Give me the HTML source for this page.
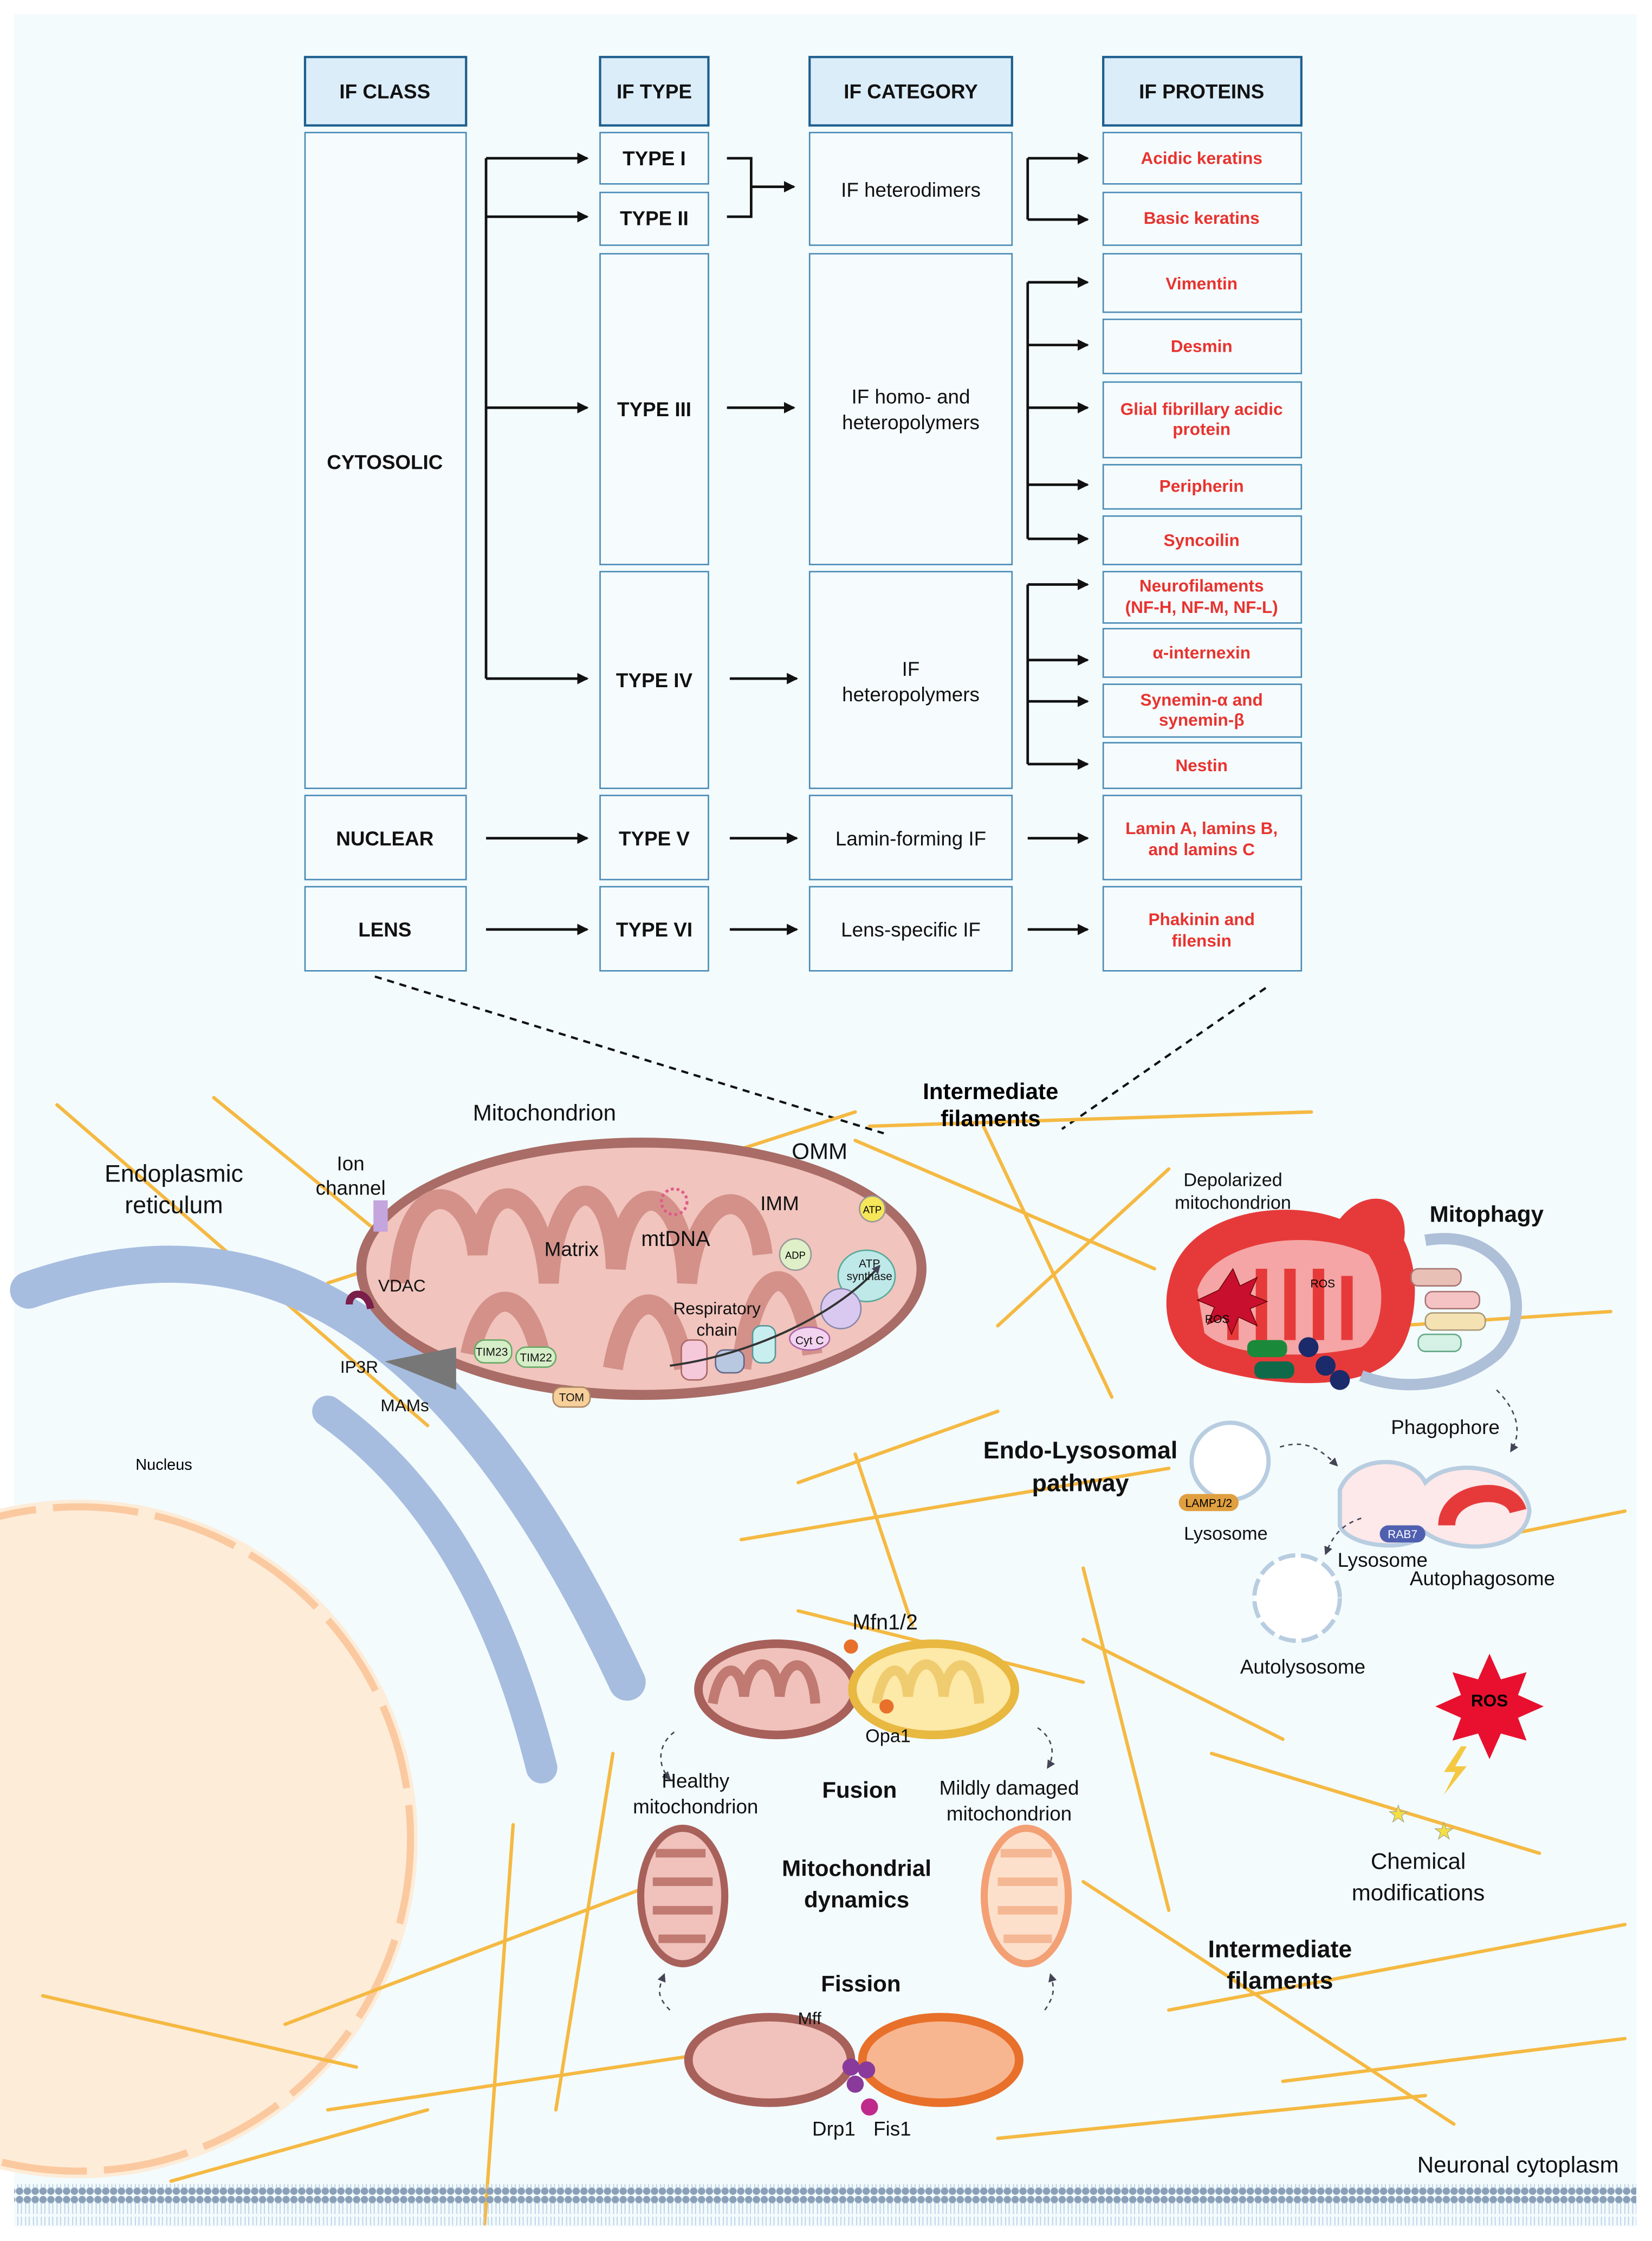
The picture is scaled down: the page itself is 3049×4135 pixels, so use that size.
<!DOCTYPE html>
<html><head><meta charset="utf-8"><style>
html,body{margin:0;padding:0;background:#fff}
svg{display:block}
text{font-family:"Liberation Sans",sans-serif}
.h{font-weight:bold;font-size:14px;fill:#111}
.r{font-weight:bold;font-size:12px;fill:#e8332f}
.c{font-size:14px;fill:#111}
.l{font-size:14px;fill:#111}
.b{font-weight:bold;font-size:16px;fill:#111}
</style></head><body>
<svg width="3049" height="4135" viewBox="0 0 1159 1572" preserveAspectRatio="none" xmlns="http://www.w3.org/2000/svg">
<defs>
<marker id="a" markerWidth="8" markerHeight="8" refX="7" refY="4" orient="auto" markerUnits="userSpaceOnUse"><path d="M0,0 L8,4 L0,8z" fill="#111"/></marker>
<marker id="d" markerWidth="6" markerHeight="6" refX="5" refY="3" orient="auto" markerUnits="userSpaceOnUse"><path d="M0,0 L6,3 L0,6z" fill="#445"/></marker>
<pattern id="mem" width="5.5" height="28" patternUnits="userSpaceOnUse"><circle cx="2.7" cy="3" r="2.6" fill="#8aa0b8"/><circle cx="2.7" cy="25" r="2.6" fill="#8aa0b8"/><path d="M1.5,5 V13 M4,5 V13 M1.5,15 V23 M4,15 V23" stroke="#bcd0e6" stroke-width="0.7"/></pattern>
</defs>
<rect x="0" y="0" width="1159" height="1572" fill="#fff"/>
<rect x="10" y="10" width="1138" height="1552" fill="#f3fbfd"/>
<!-- table headers -->
<g stroke="#1e5f8e" stroke-width="1.6" fill="#dcedfa">
<rect x="214" y="40" width="113" height="48"/><rect x="421" y="40" width="76" height="48"/><rect x="568" y="40" width="142" height="48"/><rect x="774" y="40" width="139" height="48"/>
</g>
<text class="h" x="270" y="69" text-anchor="middle">IF CLASS</text>
<text class="h" x="459" y="69" text-anchor="middle">IF TYPE</text>
<text class="h" x="639" y="69" text-anchor="middle">IF CATEGORY</text>
<text class="h" x="843" y="69" text-anchor="middle">IF PROTEINS</text>
<g stroke="#4a8bb5" stroke-width="1" fill="#f6fcfe">
<rect x="214" y="93" width="113" height="460"/><rect x="214" y="558" width="113" height="59"/><rect x="214" y="622" width="113" height="59"/>
<rect x="421" y="93" width="76" height="36"/><rect x="421" y="135" width="76" height="37"/><rect x="421" y="178" width="76" height="218"/><rect x="421" y="401" width="76" height="152"/><rect x="421" y="558" width="76" height="59"/><rect x="421" y="622" width="76" height="59"/>
<rect x="568" y="93" width="142" height="79"/><rect x="568" y="178" width="142" height="218"/><rect x="568" y="401" width="142" height="152"/><rect x="568" y="558" width="142" height="59"/><rect x="568" y="622" width="142" height="59"/>
<rect x="774" y="93" width="139" height="36"/><rect x="774" y="135" width="139" height="37"/><rect x="774" y="178" width="139" height="41"/><rect x="774" y="224" width="139" height="38"/><rect x="774" y="268" width="139" height="53"/><rect x="774" y="326" width="139" height="31"/><rect x="774" y="362" width="139" height="34"/><rect x="774" y="401" width="139" height="36"/><rect x="774" y="441" width="139" height="34"/><rect x="774" y="480" width="139" height="37"/><rect x="774" y="521" width="139" height="32"/><rect x="774" y="558" width="139" height="59"/><rect x="774" y="622" width="139" height="59"/>
</g>
<text class="h" x="270" y="329" text-anchor="middle">CYTOSOLIC</text>
<text class="h" x="270" y="593" text-anchor="middle">NUCLEAR</text>
<text class="h" x="270" y="657" text-anchor="middle">LENS</text>
<text class="h" x="459" y="116" text-anchor="middle">TYPE I</text>
<text class="h" x="459" y="158" text-anchor="middle">TYPE II</text>
<text class="h" x="459" y="292" text-anchor="middle">TYPE III</text>
<text class="h" x="459" y="482" text-anchor="middle">TYPE IV</text>
<text class="h" x="459" y="593" text-anchor="middle">TYPE V</text>
<text class="h" x="459" y="657" text-anchor="middle">TYPE VI</text>
<text class="c" x="639" y="138" text-anchor="middle">IF heterodimers</text>
<text class="c" x="639" y="283" text-anchor="middle">IF homo- and</text>
<text class="c" x="639" y="301" text-anchor="middle">heteropolymers</text>
<text class="c" x="639" y="474" text-anchor="middle">IF</text>
<text class="c" x="639" y="492" text-anchor="middle">heteropolymers</text>
<text class="c" x="639" y="593" text-anchor="middle">Lamin-forming IF</text>
<text class="c" x="639" y="657" text-anchor="middle">Lens-specific IF</text>
<g text-anchor="middle">
<text class="r" x="843" y="115">Acidic keratins</text>
<text class="r" x="843" y="157">Basic keratins</text>
<text class="r" x="843" y="203">Vimentin</text>
<text class="r" x="843" y="247">Desmin</text>
<text class="r" x="843" y="291">Glial fibrillary acidic</text>
<text class="r" x="843" y="305">protein</text>
<text class="r" x="843" y="345">Peripherin</text>
<text class="r" x="843" y="383">Syncoilin</text>
<text class="r" x="843" y="415">Neurofilaments</text>
<text class="r" x="843" y="430">(NF-H, NF-M, NF-L)</text>
<text class="r" x="843" y="462">α-internexin</text>
<text class="r" x="843" y="495">Synemin-α and</text>
<text class="r" x="843" y="509">synemin-β</text>
<text class="r" x="843" y="541">Nestin</text>
<text class="r" x="843" y="585">Lamin A, lamins B,</text>
<text class="r" x="843" y="600">and lamins C</text>
<text class="r" x="843" y="649">Phakinin and</text>
<text class="r" x="843" y="664">filensin</text>
</g>
<g stroke="#111" stroke-width="1.8" fill="none">
<path d="M341,111 V476"/>
<path d="M341,111 H412" marker-end="url(#a)"/><path d="M341,152 H412" marker-end="url(#a)"/><path d="M341,286 H412" marker-end="url(#a)"/><path d="M341,476 H412" marker-end="url(#a)"/>
<path d="M341,588 H412" marker-end="url(#a)"/><path d="M341,652 H412" marker-end="url(#a)"/>
<path d="M510,111 H527 V152 H510"/><path d="M527,131 H557" marker-end="url(#a)"/>
<path d="M510,286 H557" marker-end="url(#a)"/><path d="M512,476 H559" marker-end="url(#a)"/><path d="M512,588 H559" marker-end="url(#a)"/><path d="M512,652 H559" marker-end="url(#a)"/>
<path d="M721,111 V154"/><path d="M721,111 H763" marker-end="url(#a)"/><path d="M721,154 H763" marker-end="url(#a)"/>
<path d="M721,198 V378"/><path d="M721,198 H763" marker-end="url(#a)"/><path d="M721,242 H763" marker-end="url(#a)"/><path d="M721,286 H763" marker-end="url(#a)"/><path d="M721,340 H763" marker-end="url(#a)"/><path d="M721,378 H763" marker-end="url(#a)"/>
<path d="M721,410 V536"/><path d="M721,410 H763" marker-end="url(#a)"/><path d="M721,463 H763" marker-end="url(#a)"/><path d="M721,492 H763" marker-end="url(#a)"/><path d="M721,536 H763" marker-end="url(#a)"/>
<path d="M721,588 H763" marker-end="url(#a)"/><path d="M721,652 H763" marker-end="url(#a)"/>
</g>
<g stroke="#111" stroke-width="1.6" stroke-dasharray="5,4"><path d="M263,685 L620,795"/><path d="M888,693 L745,792"/></g>

<!-- nucleus -->
<circle cx="55" cy="1290" r="238" fill="#fdecd8"/>
<circle cx="55" cy="1290" r="233" fill="none" stroke="#fbc9a0" stroke-width="5" stroke-dasharray="60,12"/>
<text x="115" y="1031" font-family="Liberation Serif" font-size="11" text-anchor="middle">Nucleus</text>
<!-- filaments -->
<g stroke="#f5b942" stroke-width="2.4" fill="none" stroke-linecap="round">
<path d="M40,775 L300,1000"/><path d="M150,770 L260,860"/><path d="M230,900 L600,780"/><path d="M610,790 L920,780"/><path d="M600,800 L810,890"/><path d="M690,790 L780,980"/><path d="M700,930 L820,820"/><path d="M520,1080 L820,1030"/><path d="M560,1040 L700,990"/>
<path d="M200,1420 L490,1310"/><path d="M230,1480 L500,1440"/><path d="M360,1280 L340,1560"/><path d="M430,1230 L390,1480"/><path d="M30,1400 L250,1450"/><path d="M120,1530 L300,1480"/>
<path d="M760,1150 L900,1220"/><path d="M850,1230 L1080,1300"/><path d="M760,1320 L1020,1490"/><path d="M700,1500 L1000,1470"/><path d="M820,1410 L1140,1350"/><path d="M900,1460 L1140,1430"/><path d="M760,1100 L820,1340"/><path d="M560,1130 L760,1180"/><path d="M600,1020 L640,1140"/><path d="M980,930 L1130,920"/><path d="M1040,1080 L1140,1060"/>
</g>
<!-- ER -->
<g fill="none" stroke="#a7bddf" stroke-linecap="round">
<path d="M20,905 C150,860 300,880 440,1180" stroke-width="26"/>
<path d="M70,945 C190,920 290,1000 400,1220" stroke-width="0"/>
<path d="M230,990 C300,1040 350,1120 380,1240" stroke-width="22"/>
<path d="M150,860 C250,830 340,900 420,960" stroke-width="0"/>
</g>
<!-- mitochondrion -->
<ellipse cx="450" cy="890" rx="200" ry="92" fill="#a96c66"/>
<ellipse cx="450" cy="890" rx="193" ry="85" fill="#f1c4bd"/>
<path d="M280,900 C285,820 330,830 335,880 C340,820 380,830 385,900 C390,820 430,820 432,890 C440,820 480,830 482,900 C490,830 530,830 535,880" fill="none" stroke="#d3918a" stroke-width="14"/>
<path d="M330,950 C340,900 370,900 380,955 M430,960 C440,900 470,900 480,960 M520,960 C530,880 560,880 570,950" fill="none" stroke="#d3918a" stroke-width="14"/>
<circle cx="473" cy="843" r="9" fill="none" stroke="#e05a8a" stroke-width="2" stroke-dasharray="2,2"/>
<circle cx="612" cy="848" r="9" fill="#f5e65a" stroke="#999"/><text x="612" y="851" font-size="7" text-anchor="middle">ATP</text>
<circle cx="558" cy="880" r="11" fill="#dff0c8" stroke="#999"/><text x="558" y="883" font-size="7" text-anchor="middle">ADP</text>
<ellipse cx="608" cy="895" rx="20" ry="18" fill="#bfe8e8" stroke="#5a9"/>
<ellipse cx="590" cy="918" rx="14" ry="14" fill="#d9c9f0" stroke="#88a"/>
<rect x="478" y="940" width="18" height="28" rx="6" fill="#f5c9d9" stroke="#a66"/><rect x="502" y="947" width="20" height="16" rx="6" fill="#b8c8e0" stroke="#668"/><rect x="528" y="930" width="16" height="26" rx="6" fill="#c9eef0" stroke="#599"/>
<ellipse cx="568" cy="939" rx="14" ry="8" fill="#f3d4f0" stroke="#a6a"/>
<rect x="333" y="940" width="26" height="16" rx="7" fill="#d6eec8" stroke="#6a6"/><rect x="362" y="945" width="28" height="14" rx="7" fill="#d6eec8" stroke="#6a6"/>
<rect x="388" y="973" width="26" height="14" rx="6" fill="#f7cf9a" stroke="#a86"/>
<rect x="262" y="842" width="10" height="22" fill="#c4a5dd"/>
<path d="M270,955 L320,945 L320,975z" fill="#777"/>
<path d="M245,915 C245,905 258,905 260,918" stroke="#7a1e4a" stroke-width="5" fill="none"/>
<path d="M470,958 C530,950 590,920 617,888" stroke="#333" stroke-width="1.5" fill="none" marker-end="url(#d)"/>
<g class="l">
<text x="382" y="786" text-anchor="middle" font-size="16">Mitochondrion</text>
<text x="575" y="813" text-anchor="middle" font-size="16">OMM</text>
<text x="547" y="849" text-anchor="middle">IMM</text>
<text x="401" y="881" text-anchor="middle">Matrix</text>
<text x="474" y="874" text-anchor="middle" font-size="15">mtDNA</text>
<text x="503" y="922" text-anchor="middle" font-size="12">Respiratory</text>
<text x="503" y="937" text-anchor="middle" font-size="12">chain</text>
<text x="610" y="889" text-anchor="middle" font-size="8">ATP</text><text x="610" y="898" text-anchor="middle" font-size="8">synthase</text>
<text x="568" y="943" text-anchor="middle" font-size="8">Cyt C</text>
<text x="345" y="951" text-anchor="middle" font-size="8">TIM23</text><text x="376" y="955" text-anchor="middle" font-size="8">TIM22</text><text x="401" y="983" text-anchor="middle" font-size="8">TOM</text>
<text x="246" y="821" text-anchor="middle">Ion</text><text x="246" y="838" text-anchor="middle">channel</text>
<text x="282" y="906" text-anchor="middle" font-size="12">VDAC</text>
<text x="252" y="963" text-anchor="middle" font-size="12">IP3R</text>
<text x="284" y="990" text-anchor="middle" font-size="12">MAMs</text>
<text x="122" y="829" text-anchor="middle" font-size="17">Endoplasmic</text>
<text x="122" y="851" text-anchor="middle" font-size="17">reticulum</text>
</g>
<text x="695" y="771" font-family="Liberation Serif" font-weight="bold" font-size="16" text-anchor="middle">Intermediate</text>
<text x="695" y="790" font-family="Liberation Serif" font-weight="bold" font-size="16" text-anchor="middle">filaments</text>
<!-- mitophagy -->
<path d="M820,900 C830,850 900,840 940,855 C960,830 990,840 985,870 C1000,900 990,940 980,950 C960,975 900,975 850,960 C820,950 815,920 820,900z" fill="#e63a3a"/>
<path d="M840,905 C850,870 920,860 960,880 C975,900 970,935 955,945 C910,955 860,950 845,935z" fill="#f5a5a5"/>
<path d="M865,940 V900 M885,940 V890 M905,940 V890 M925,940 V890 M945,940 V895" stroke="#e63a3a" stroke-width="8"/>
<path d="M1000,870 C1060,860 1080,920 1050,950 C1020,975 980,975 955,965" fill="none" stroke="#aebfd8" stroke-width="8"/>
<rect x="990" y="890" width="35" height="12" rx="5" fill="#e9c0b6" stroke="#a77"/><rect x="1000" y="906" width="38" height="12" rx="5" fill="#f5c3c3" stroke="#a77"/><rect x="1000" y="921" width="42" height="12" rx="5" fill="#f5e2b3" stroke="#a97"/><rect x="995" y="936" width="30" height="12" rx="5" fill="#d5f0e5" stroke="#6a8"/>
<rect x="875" y="940" width="28" height="12" rx="5" fill="#1a8a3a"/><rect x="880" y="955" width="28" height="12" rx="5" fill="#0f6a4a"/>
<circle cx="918" cy="945" r="7" fill="#1a2a6a"/><circle cx="930" cy="958" r="7" fill="#1a2a6a"/><circle cx="940" cy="968" r="7" fill="#1a2a6a"/>
<path d="M855,905 l10,-15 l5,12 l12,-6 l-5,12 l12,5 l-12,5 l5,12 l-13,-6 l-5,12 l-5,-12 l-12,5 l5,-12 l-12,-5z" fill="#c8102e" stroke="#500" stroke-width="0.5"/>
<text x="854" y="928" font-size="8" text-anchor="middle">ROS</text>
<text x="928" y="903" font-size="8" text-anchor="middle">ROS</text>
<g class="l">
<text x="865" y="832" text-anchor="middle" font-size="13">Depolarized</text><text x="865" y="848" text-anchor="middle" font-size="13">mitochondrion</text>
<text x="1043" y="857" text-anchor="middle" font-weight="bold" font-size="16">Mitophagy</text>
<text x="1014" y="1006" text-anchor="middle">Phagophore</text>
<text x="758" y="1023" text-anchor="middle" font-weight="bold" font-size="17">Endo-Lysosomal</text>
<text x="758" y="1046" text-anchor="middle" font-weight="bold" font-size="17">pathway</text>
<text x="860" y="1080" text-anchor="middle" font-size="13">Lysosome</text>
<text x="970" y="1099" text-anchor="middle">Lysosome</text>
<text x="1040" y="1112" text-anchor="middle">Autophagosome</text>
<text x="914" y="1174" text-anchor="middle">Autolysosome</text>
</g>
<circle cx="863" cy="1025" r="27" fill="#fff" stroke="#b8cde0" stroke-width="3"/>
<rect x="827" y="1048" width="42" height="12" rx="6" fill="#e0a040"/><text x="848" y="1057" font-size="8" text-anchor="middle">LAMP1/2</text>
<path d="M940,1045 C950,1020 990,1020 1000,1040 C1020,1020 1070,1030 1073,1060 C1070,1090 1020,1090 1000,1075 C990,1090 945,1085 940,1070z" fill="#fde8ea" stroke="#b8cde0" stroke-width="3"/>
<path d="M1015,1070 C1015,1045 1060,1040 1065,1060" stroke="#e63a3a" stroke-width="12" fill="none"/>
<rect x="968" y="1070" width="32" height="12" rx="6" fill="#5060b0"/><text x="984" y="1079" font-size="8" fill="#fff" text-anchor="middle">RAB7</text>
<circle cx="910" cy="1121" r="30" fill="#fff" stroke="#b8cde0" stroke-width="3" stroke-dasharray="12,4"/>
<!-- ROS & chemical -->
<path d="M1045,1160 l8,18 l18,-5 l-6,16 l18,8 l-18,8 l6,16 l-18,-5 l-8,18 l-8,-18 l-18,5 l6,-16 l-18,-8 l18,-8 l-6,-16 l18,5z" fill="#e8102e"/>
<text x="1045" y="1197" font-size="12" font-weight="bold" text-anchor="middle">ROS</text>
<path d="M1025,1225 l-12,18 h8 l-8,16 l16,-20 h-8 l8,-14z" fill="#f5c842"/>
<text x="981" y="1278" font-size="16" fill="#f5e042" stroke="#aa8" stroke-width="0.5" text-anchor="middle">★</text>
<text x="1013" y="1290" font-size="16" fill="#f5e042" stroke="#aa8" stroke-width="0.5" text-anchor="middle">★</text>
<g class="l">
<text x="995" y="1311" text-anchor="middle" font-size="16">Chemical</text>
<text x="995" y="1333" text-anchor="middle" font-size="16">modifications</text>
<text x="898" y="1373" text-anchor="middle" font-weight="bold" font-size="17">Intermediate</text>
<text x="898" y="1395" text-anchor="middle" font-weight="bold" font-size="17">filaments</text>
<text x="1065" y="1524" text-anchor="middle" font-size="16">Neuronal  cytoplasm</text>
</g>
<!-- dynamics -->
<ellipse cx="545" cy="1185" rx="58" ry="35" fill="#a8605a"/><ellipse cx="545" cy="1185" rx="52" ry="29" fill="#f0c2bb"/>
<path d="M500,1195 C505,1165 520,1165 522,1190 C525,1160 545,1160 547,1190 C550,1160 570,1160 572,1195" fill="none" stroke="#c07a72" stroke-width="7"/>
<ellipse cx="655" cy="1185" rx="60" ry="35" fill="#e8b840"/><ellipse cx="655" cy="1185" rx="54" ry="29" fill="#fde9a8"/>
<path d="M615,1195 C620,1165 635,1165 637,1190 C640,1160 660,1160 662,1190 C665,1160 685,1160 687,1195" fill="none" stroke="#f0cc70" stroke-width="7"/>
<circle cx="597" cy="1155" r="5" fill="#e8702a"/><circle cx="622" cy="1197" r="5" fill="#e8702a"/>
<ellipse cx="479" cy="1330" rx="32" ry="50" fill="#a8605a"/><ellipse cx="479" cy="1330" rx="27" ry="45" fill="#f0c2bb"/>
<path d="M460,1300 H495 M458,1320 H500 M458,1340 H500 M462,1360 H495" stroke="#c07a72" stroke-width="6"/>
<ellipse cx="720" cy="1330" rx="32" ry="50" fill="#f3a075"/><ellipse cx="720" cy="1330" rx="27" ry="45" fill="#fde0cc"/>
<path d="M702,1300 H738 M700,1320 H742 M700,1340 H742 M704,1360 H738" stroke="#f5b894" stroke-width="6"/>
<ellipse cx="540" cy="1445" rx="60" ry="33" fill="#a8605a"/><ellipse cx="540" cy="1445" rx="54" ry="27" fill="#f0c2bb"/>
<ellipse cx="660" cy="1445" rx="58" ry="33" fill="#e8702a"/><ellipse cx="660" cy="1445" rx="52" ry="27" fill="#f8b690"/>
<circle cx="600" cy="1462" r="6" fill="#8a3a9a"/><circle cx="608" cy="1452" r="6" fill="#8a3a9a"/><circle cx="597" cy="1450" r="6" fill="#8a3a9a"/><circle cx="610" cy="1478" r="6" fill="#c02a8a"/>
<g stroke="#445" stroke-width="1" stroke-dasharray="3,3" fill="none">
<path d="M473,1215 C460,1225 462,1240 470,1248" marker-end="url(#d)"/><path d="M728,1212 C740,1220 740,1232 735,1240" marker-end="url(#d)"/>
<path d="M470,1410 C460,1400 462,1395 466,1385" marker-end="url(#d)"/><path d="M733,1410 C740,1400 740,1395 737,1385" marker-end="url(#d)"/>
<path d="M898,1015 C915,1010 925,1015 938,1028" marker-end="url(#d)"/><path d="M955,1065 C940,1070 935,1078 930,1090" marker-end="url(#d)"/><path d="M1050,975 C1065,990 1068,1005 1060,1018" marker-end="url(#d)"/>
</g>
<g class="l">
<text x="621" y="1143" text-anchor="middle" font-size="15">Mfn1/2</text>
<text x="623" y="1222" text-anchor="middle" font-size="13">Opa1</text>
<text x="488" y="1254" text-anchor="middle">Healthy</text><text x="488" y="1272" text-anchor="middle">mitochondrion</text>
<text x="603" y="1261" text-anchor="middle" font-weight="bold" font-size="16">Fusion</text>
<text x="708" y="1259" text-anchor="middle">Mildly damaged</text><text x="708" y="1277" text-anchor="middle">mitochondrion</text>
<text x="601" y="1316" text-anchor="middle" font-weight="bold" font-size="16">Mitochondrial</text>
<text x="601" y="1338" text-anchor="middle" font-weight="bold" font-size="16">dynamics</text>
<text x="604" y="1397" text-anchor="middle" font-weight="bold" font-size="16">Fission</text>
<text x="568" y="1420" text-anchor="middle" font-size="12">Mff</text>
<text x="585" y="1498" text-anchor="middle">Drp1</text><text x="626" y="1498" text-anchor="middle">Fis1</text>
</g>
<!-- membrane -->
<rect x="10" y="1532" width="1138" height="29" fill="url(#mem)"/>
</svg>
</body></html>
